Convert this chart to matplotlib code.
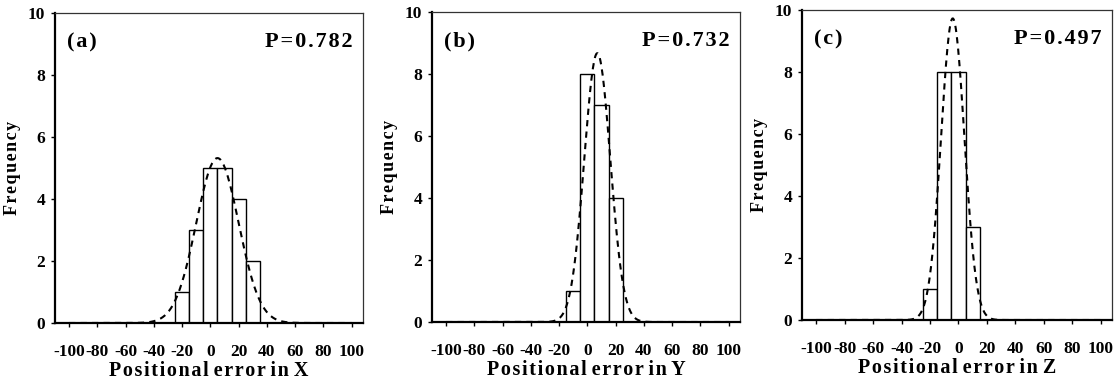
"""Histograms of positional error with fitted normal curves."""

import matplotlib
matplotlib.use("Agg")
import matplotlib.pyplot as plt
import numpy as np

# bin centres and counts
x_centres = [-20, -10, 0, 10, 20, 30]
x_counts = [1, 3, 5, 5, 4, 2]
y_centres = [-10, 0, 10, 20]
y_counts = [1, 8, 7, 4]
z_centres = [-20, -10, 0, 10]
z_counts = [1, 8, 8, 3]

# fitted normal curves: mean and standard deviation
fit_means = [5, 7, -4]
fit_sds = [15.0, 9.2, 8.2]

panel_tags = ["(a)", "(b)", "(c)"]
p_values = ["P=0.782", "P=0.732", "P=0.497"]
axis_names = ["X", "Y", "Z"]
bin_width = 10

plt.rcParams["font.family"] = ["Liberation Serif", "DejaVu Serif"]
plt.rcParams["font.weight"] = "bold"


def spaced(s, n=1):
    # the original typesetting has loose letter spacing
    gap = "\u200a" * n
    out = ""
    for a, b in zip(s, s[1:] + " "):
        out += a
        if a != " " and b != " ":
            out += gap
    return out


fig = plt.figure(figsize=(11.17, 3.8), dpi=100)
W, H = 1117, 380
boxes = [(55, 13, 363, 323), (432, 12, 740, 322), (802, 10, 1112, 320)]

data = [(x_centres, x_counts), (y_centres, y_counts), (z_centres, z_counts)]
for i, (centres, counts) in enumerate(data):
    l, t, r, b = boxes[i]
    ax = fig.add_axes([l / W, 1 - b / H, (r - l) / W, (b - t) / H])
    ax.bar(centres, counts, width=bin_width, color="white",
           edgecolor="black", linewidth=1.0, zorder=2)
    xs = np.linspace(-100, 100, 400)
    n = sum(counts)
    pdf = np.exp(-0.5 * ((xs - fit_means[i]) / fit_sds[i]) ** 2) / (fit_sds[i] * np.sqrt(2 * np.pi))
    ax.plot(xs, n * bin_width * pdf, "k--", linewidth=1.5, dashes=(3, 2.5), zorder=3)

    ax.set_xlim(-110, 108)
    ax.set_ylim(0, 10)
    ax.set_xticks(range(-100, 101, 20))
    ax.set_xticklabels(["-100", "-80", "-60", "-40", "-20", "0", "20", "40", "60", "80", "100"])
    ax.set_yticks(range(0, 11, 2))
    ax.tick_params(direction="out", length=3, width=1, labelsize=12.5)
    ax.tick_params(axis="x", pad=12)
    ax.tick_params(axis="y", pad=4)
    for lab in ax.get_xticklabels() + ax.get_yticklabels():
        lab.set_fontweight("bold")
    for side in ["left", "bottom"]:
        ax.spines[side].set_linewidth(1.6)
    for side in ["top", "right"]:
        ax.spines[side].set_linewidth(0.9)
        ax.spines[side].set_color("#333333")

    ax.set_xlabel(spaced("Positional error in " + axis_names[i]), fontsize=14.5,
                  fontweight="bold", labelpad=1)
    ax.set_ylabel(spaced("Frequency"), fontsize=13, fontweight="bold", labelpad=5)
    ax.text(0.04, 0.905, spaced(panel_tags[i]), transform=ax.transAxes, fontsize=16,
            fontweight="bold", va="center", ha="left")
    ax.text(0.965, 0.905, spaced(p_values[i]), transform=ax.transAxes,
            fontsize=16, fontweight="bold", va="center", ha="right")

fig.savefig("out.png", dpi=100)
plt.close(fig)
